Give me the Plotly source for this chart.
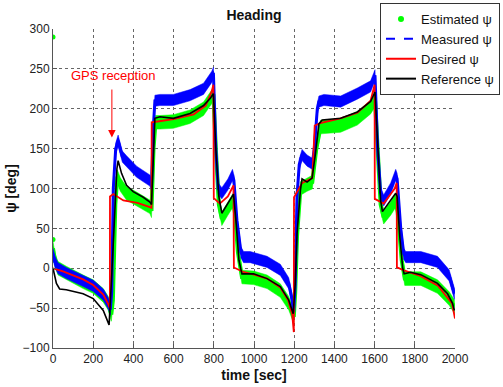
import plotly.graph_objects as go

# ---------------- data ----------------
x_ticks = [0, 200, 400, 600, 800, 1000, 1200, 1400, 1600, 1800, 2000]
y_ticks = [-100, -50, 0, 50, 100, 150, 200, 250, 300]

# Desired psi (red)
t_desired = [0, 50, 100, 150, 200, 250, 275, 283, 283.5, 300, 350, 420, 490,
             491, 520, 600, 700, 760, 790, 798, 800, 830, 870, 898,
             900, 950, 1000, 1065, 1130, 1170, 1190, 1198,
             1199, 1240, 1290, 1302, 1330, 1430, 1515, 1580, 1600,
             1601, 1645, 1700, 1710, 1711, 1750, 1830, 1915, 1985, 2000]
desired = [0, -4, -9, -14, -21, -33, -45, -50, 90, 93, 85, 82, 76,
           183, 184, 187, 193, 204, 222, 230, 88, 81, 90, 104,
           1, -5, -8, -13, -24, -40, -58, -80,
           89, 107, 113, 179, 182, 188, 195, 210, 230,
           87, 81, 100, 107, 1, -3, -10, -22, -44, -63]

# Reference psi (black)
t_reference = [0, 17, 33, 66, 150, 200, 250, 279, 290, 305, 318, 324, 341, 366, 399, 449, 482, 490,
               500, 507, 532, 599, 682, 749, 782, 798, 810, 825, 840, 870, 890, 898,
               910, 925, 940, 998, 1065, 1131, 1173, 1195, 1205, 1214, 1231, 1239, 1264, 1289,
               1306, 1323, 1339, 1431, 1514, 1580, 1602, 1615, 1630, 1639, 1670, 1705, 1712,
               1725, 1740, 1747, 1780, 1830, 1913, 1963, 1988, 1997]
reference = [0, -19, -26, -27, -32, -38, -53, -71, -20, 60, 125, 135, 119, 104, 96, 89, 83, 80,
             150, 188, 190, 188, 194, 204, 213, 219, 150, 90, 69, 82, 90, 93,
             60, 10, -7, -7, -13, -23, -40, -57, -20, 43, 98, 112, 108, 113,
             144, 181, 186, 188, 196, 209, 221, 150, 85, 71, 82, 94, 90,
             40, 0, -7, -5, -8, -19, -32, -44, -53]

# Measured psi (blue, noisy band centre)
t_measured = [0, 10, 25, 66, 150, 200, 250, 275, 285, 292, 300, 312, 324, 345, 366, 416, 482, 490,
              500, 507, 532, 599, 682, 749, 790, 798, 810, 822, 840, 870, 893, 900,
              915, 935, 948, 981, 1065, 1131, 1173, 1190, 1197, 1205, 1214, 1225, 1239, 1264, 1290,
              1300, 1315, 1323, 1348, 1431, 1514, 1580, 1602, 1615, 1630, 1645, 1680, 1705, 1712,
              1730, 1745, 1755, 1830, 1913, 1971, 1997]
measured = [18, 8, 0, -6, -16, -22, -33, -44, -52, -30, 100, 150, 160, 140, 134, 121, 110, 104,
            180, 210, 211, 211, 217, 225, 240, 245, 150, 100, 94, 105, 117, 110,
            60, 20, 14, 14, 8, -2, -19, -40, -55, -20, 90, 130, 142, 135, 131,
            150, 200, 209, 211, 209, 219, 228, 242, 150, 95, 85, 100, 117, 112,
            50, 18, 14, 14, 8, -9, -32]

# Estimated psi (green, noisy band centre)
t_estimated = [0, 10, 25, 66, 150, 200, 250, 275, 290, 298, 310, 320, 335, 366, 416, 482, 490,
               500, 510, 532, 599, 682, 749, 790, 798, 810, 825, 840, 870, 895,
               905, 920, 940, 998, 1065, 1131, 1173, 1198, 1205, 1214, 1231, 1264, 1290,
               1310, 1331, 1431, 1514, 1580, 1602, 1615, 1630, 1645, 1680, 1705, 1715,
               1735, 1750, 1830, 1913, 1971, 1997]
estimated = [25, 10, 0, -6, -17, -23, -34, -44, -58, -40, 80, 115, 105, 94, 87, 77, 72,
             150, 183, 183, 184, 190, 200, 215, 218, 150, 80, 62, 75, 85,
             70, 20, -11, -12, -17, -28, -44, -61, -30, 40, 100, 105, 108,
             150, 177, 179, 188, 202, 211, 150, 80, 64, 75, 85, 70,
             10, -13, -13, -23, -38, -48]

# initial estimated outliers
t_est_init = [0, 0]
est_init = [290, 36]

# annotation
gps_text = "GPS reception"
gps_t, gps_v = 300, 242
arrow_t, arrow_tail_v, arrow_tip_v = 293, 226, 164

# noise-band half thickness (style, in degrees)
BLUE_HALF = 7.0
GREEN_HALF = 8.5

FONT = "Liberation Sans, Arial, sans-serif"
GREEN = "#00ff00"
BLUE = "#0000ff"
RED = "#ff0000"
BLACK = "#000000"


def band(t, v, half, color, line_w):
    xs = list(t) + list(t)[::-1]
    ys = [a + half for a in v] + [a - half for a in v][::-1]
    return [
        go.Scatter(x=xs, y=ys, mode="lines", fill="toself", fillcolor=color,
                   line=dict(color=color, width=0.5), showlegend=False, hoverinfo="skip"),
        go.Scatter(x=t, y=v, mode="lines", line=dict(color=color, width=line_w),
                   showlegend=False, hoverinfo="skip"),
    ]


fig = go.Figure()

for tr in band(t_estimated, estimated, GREEN_HALF, GREEN, 4):
    fig.add_trace(tr)
fig.add_trace(go.Scatter(x=t_est_init, y=est_init, mode="markers",
                         marker=dict(color=GREEN, size=5), showlegend=False, hoverinfo="skip"))
for tr in band(t_measured, measured, BLUE_HALF, BLUE, 3):
    fig.add_trace(tr)
fig.add_trace(go.Scatter(x=t_desired, y=desired, mode="lines",
                         line=dict(color=RED, width=1.8), showlegend=False, hoverinfo="skip"))
fig.add_trace(go.Scatter(x=t_reference, y=reference, mode="lines",
                         line=dict(color=BLACK, width=1.6), showlegend=False, hoverinfo="skip"))

# legend entries
fig.add_trace(go.Scatter(x=[None], y=[None], mode="markers", name="Estimated ψ",
                         marker=dict(color=GREEN, size=6)))
fig.add_trace(go.Scatter(x=[None], y=[None], mode="lines", name="Measured ψ",
                         line=dict(color=BLUE, width=2, dash="dash")))
fig.add_trace(go.Scatter(x=[None], y=[None], mode="lines", name="Desired ψ",
                         line=dict(color=RED, width=2)))
fig.add_trace(go.Scatter(x=[None], y=[None], mode="lines", name="Reference ψ",
                         line=dict(color=BLACK, width=2)))

fig.add_annotation(x=gps_t, y=gps_v, text=gps_text, showarrow=False,
                   font=dict(family=FONT, size=13, color=RED), xref="x", yref="y")
fig.add_annotation(x=arrow_t, y=arrow_tip_v, ax=arrow_t, ay=arrow_tail_v,
                   xref="x", yref="y", axref="x", ayref="y", text="",
                   showarrow=True, arrowhead=2, arrowsize=1.5, arrowwidth=1, arrowcolor=RED)

axis_common = dict(showline=True, linecolor="#555555", linewidth=1, ticks="inside",
                   ticklen=4, tickcolor="#555555", showgrid=True, gridcolor="#666666",
                   griddash="dot", gridwidth=1, zeroline=False, mirror=False,
                   tickfont=dict(family=FONT, size=12, color="#222222"))

fig.update_layout(
    width=503, height=387,
    margin=dict(l=53, r=48, t=29, b=39, autoexpand=False),
    paper_bgcolor="white", plot_bgcolor="white",
    title=dict(text="<b>Heading</b>", x=0.5, xref="paper", xanchor="center",
               y=1 - 15 / 387, yanchor="middle", yref="container",
               font=dict(family=FONT, size=14, color="#111111")),
    xaxis=dict(range=[0, 2000], tickvals=x_ticks,
               title=dict(text="<b>time [sec]</b>", standoff=4,
                          font=dict(family=FONT, size=14, color="#111111")),
               **axis_common),
    yaxis=dict(range=[-100, 300], tickvals=y_ticks,
               title=dict(text="<b>ψ [deg]</b>", standoff=2,
                          font=dict(family=FONT, size=14, color="#111111")),
               **axis_common),
    legend=dict(x=500 / 503, xanchor="right", xref="container",
                y=1 - 3 / 387, yanchor="top", yref="container",
                bgcolor="white", bordercolor="#333333", borderwidth=1,
                font=dict(family=FONT, size=13, color="#111111"),
                tracegroupgap=0, itemwidth=30),
    showlegend=True,
)

fig.write_html("out.html", config={"displayModeBar": False},
               post_script="document.body.style.margin='0px';")
